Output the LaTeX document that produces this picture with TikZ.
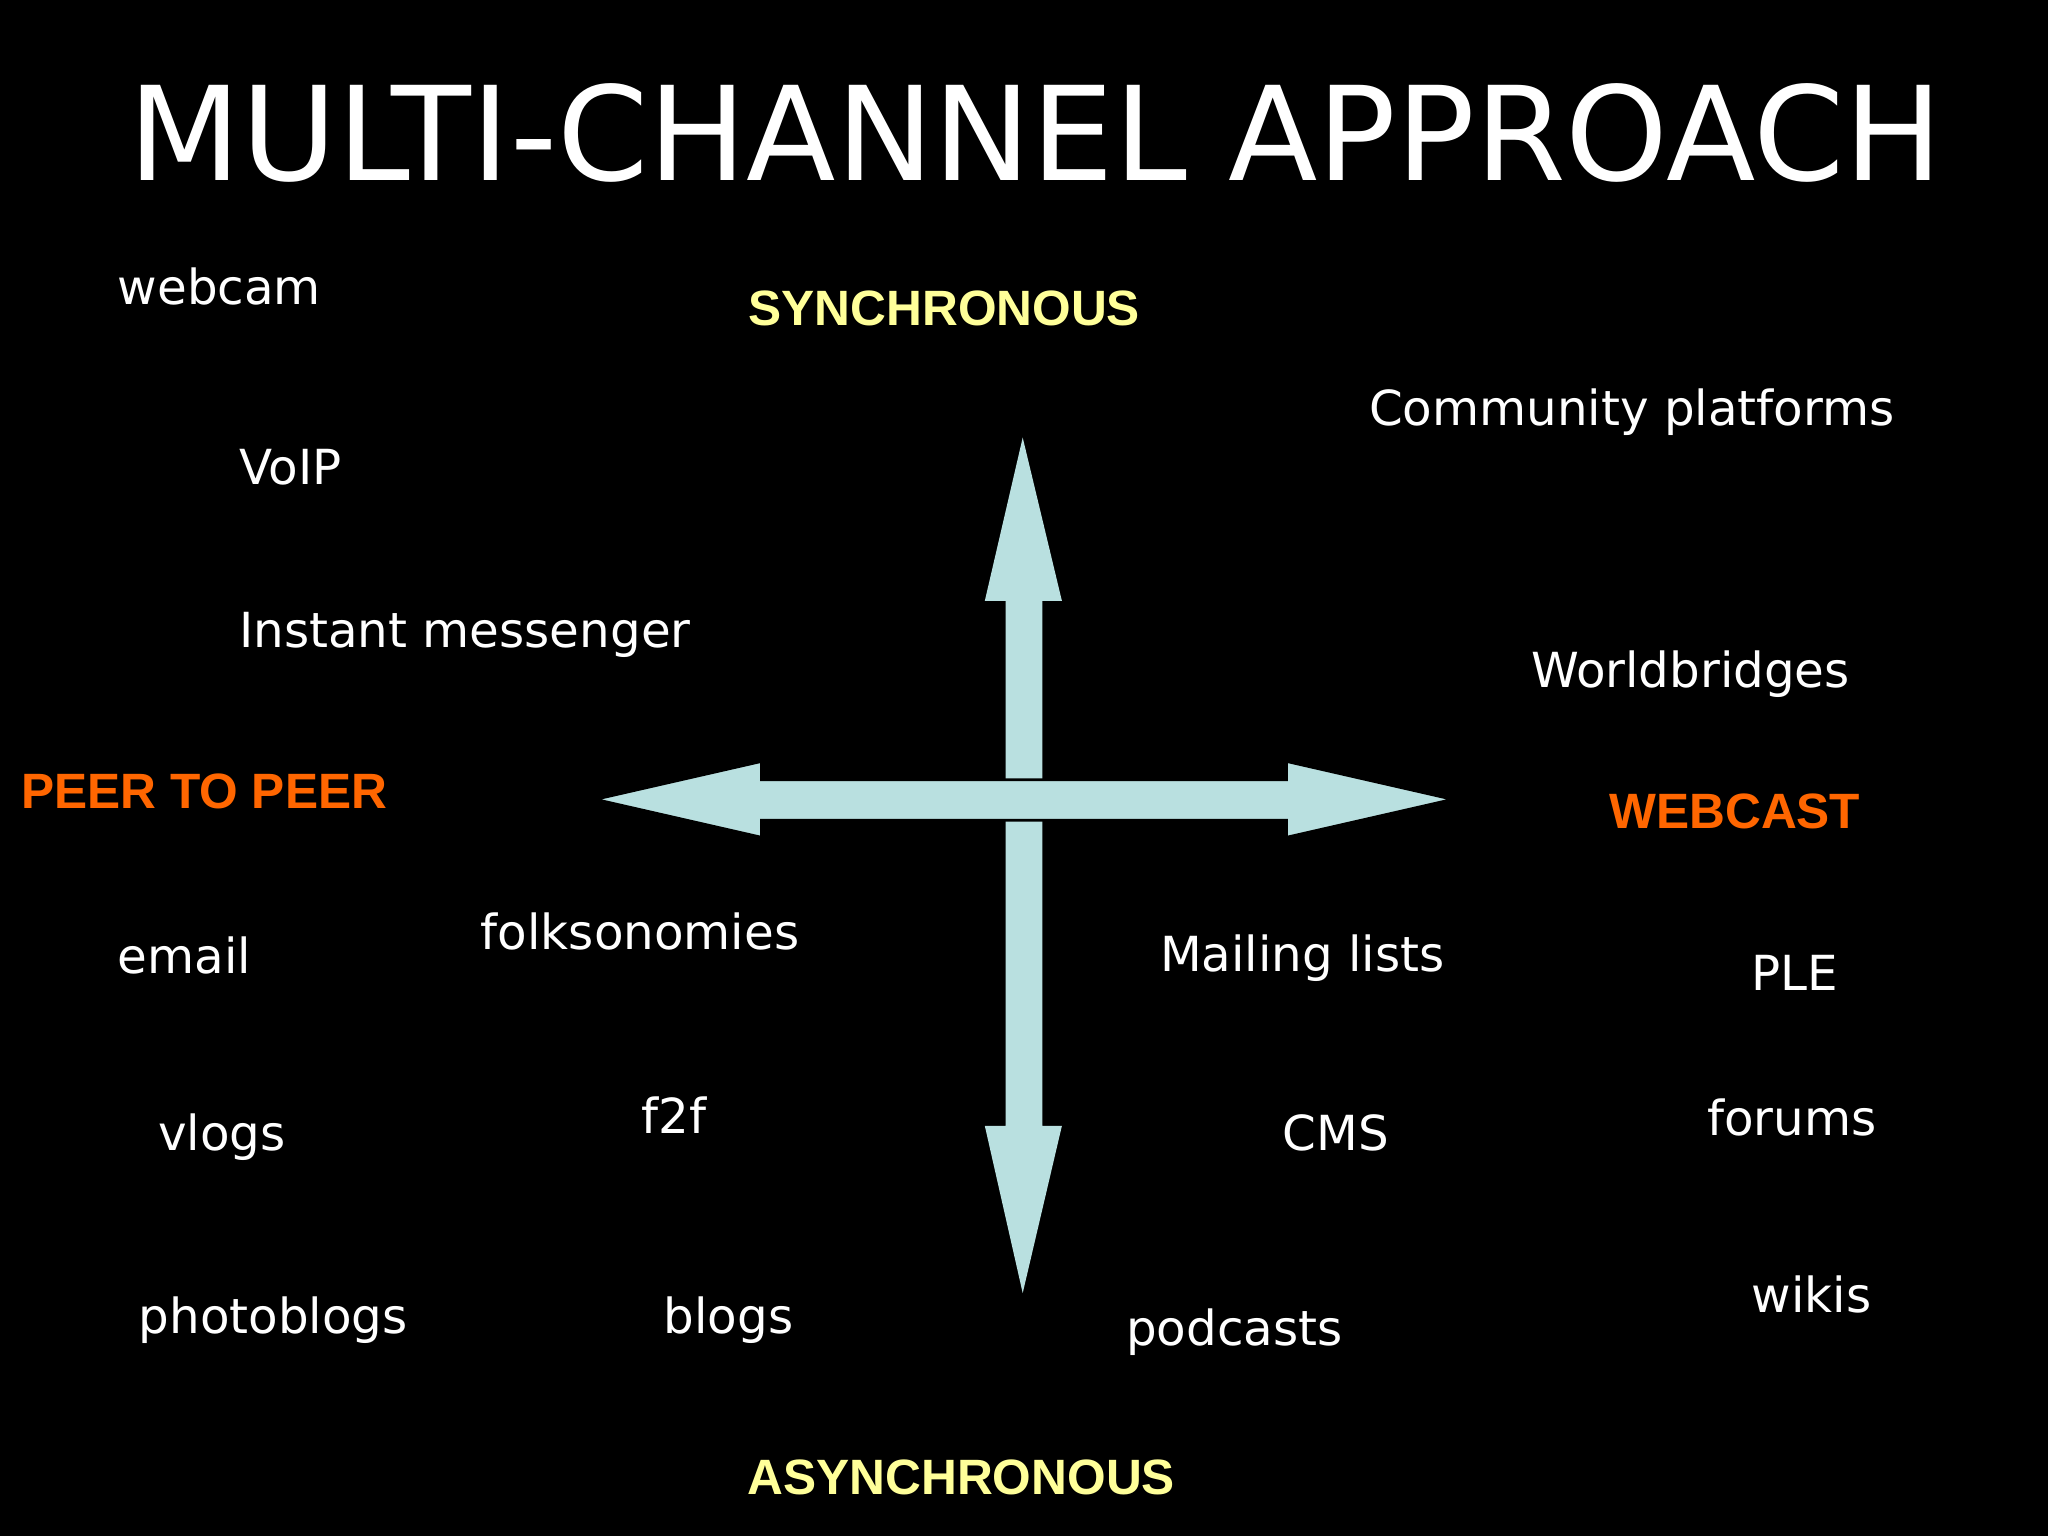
\documentclass[tikz,border=0pt]{standalone}
\usepackage{fontspec}
\setmainfont{DejaVu Sans}
\newfontfamily\arialfont{Liberation Sans}
\definecolor{arrowblue}{HTML}{B9E0E0}
\definecolor{axisyellow}{HTML}{FFFF99}
\definecolor{axisorange}{HTML}{FF6600}
\begin{document}
\begin{tikzpicture}[x=1pt,y=-1pt,
  item/.style={anchor=base west,inner sep=0pt,text=white,font=\fontsize{37}{40}\selectfont},
  axis/.style={anchor=base,inner sep=0pt,font=\arialfont\bfseries\fontsize{38}{40}\selectfont},
  arrowshape/.style={fill=arrowblue,draw=black,line width=2pt}]
\fill[black] (0,0) rectangle (1568,1176);
\useasboundingbox (0,0) rectangle (1568,1176);
% title
\node[anchor=base,inner sep=0pt,text=white,font=\fontsize{100}{110}\selectfont] (title) at (793,138) {MULTI-CHANNEL APPROACH};
% arrows
\fill[arrowblue] (783,335) -- (813,460) -- (798,460) -- (798,862) -- (813,862) -- (783,990) -- (754,862) -- (770,862) -- (770,460) -- (754,460) -- cycle;
\draw[arrowshape] (456,612) -- (583,583) -- (583,597) -- (985,597) -- (985,583) -- (1112,612) -- (985,641) -- (985,628) -- (583,628) -- (583,641) -- cycle;
% axis labels
\node[axis,text=axisyellow] (sync) at (723,249) {SYNCHRONOUS};
\node[axis,text=axisyellow] (async) at (736,1144) {ASYNCHRONOUS};
\node[axis,text=axisorange,anchor=base west] (p2p) at (16,619) {PEER TO PEER};
\node[axis,text=axisorange,anchor=base west] (webcast) at (1232,634) {WEBCAST};
% items
\node[item] (webcam) at (90,233) {webcam};
\node[item] (community) at (1048,326) {Community platforms};
\node[item] (voip) at (183,371) {VoIP};
\node[item] (im) at (183,496) {Instant messenger};
\node[item] (worldbridges) at (1172,526) {Worldbridges};
\node[item] (email) at (90,745) {email};
\node[item] (folk) at (368,727) {folksonomies};
\node[item] (mailing) at (888,744) {Mailing lists};
\node[item] (ple) at (1341,758) {PLE};
\node[item] (vlogs) at (121,881) {vlogs};
\node[item] (ftf) at (491,868) {f2f};
\node[item] (cms) at (982,881) {CMS};
\node[item] (forums) at (1307,869) {forums};
\node[item] (photoblogs) at (106,1021) {photoblogs};
\node[item] (blogs) at (508,1021) {blogs};
\node[item] (podcasts) at (862,1030) {podcasts};
\node[item] (wikis) at (1341,1005) {wikis};
\end{tikzpicture}
\end{document}
